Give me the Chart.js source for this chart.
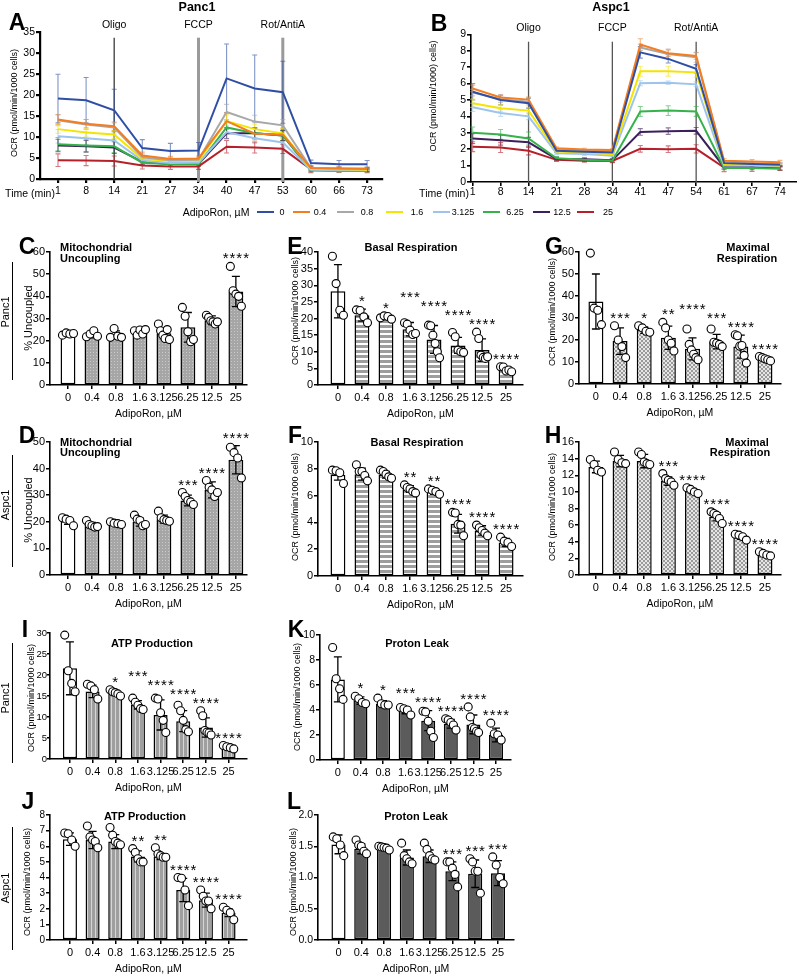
<!DOCTYPE html>
<html><head><meta charset="utf-8">
<script src="https://cdn.jsdelivr.net/npm/chart.js@4.4.1/dist/chart.umd.min.js"></script>
<style>
html,body{margin:0;padding:0;background:#fff;}
#root{position:relative;width:797px;height:974px;overflow:hidden;font-family:"Liberation Sans",Arial,Helvetica,sans-serif;color:#000;}
canvas{position:absolute;}
.t{position:absolute;white-space:nowrap;line-height:1;transform:translate(-50%,-50%);}
.tl{position:absolute;white-space:nowrap;line-height:1;transform:translate(0,-50%);}
.r{position:absolute;white-space:nowrap;line-height:1;transform:translate(-50%,-50%) rotate(-90deg);color:#000;}
.ln{position:absolute;background:#000;}
</style></head><body><div id="root"></div>
<script>
// ---------------- DATA ----------------
const timesPanc1 = ['1','8','14','21','27','34','40','47','53','60','66','73'];
const timesAspc1 = ['1','8','14','21','28','34','41','47','54','61','67','74'];
const injections = ['Oligo','FCCP','Rot/AntiA'];
const injectionIdx = [2,5,8];
const doses = ['0','0.4','0.8','1.6','3.125','6.25','12.5','25'];

// Panel A: Panc1 OCR means (pmol/min/1000 cells)
const A_0    = [19.2,18.8,16.4,7.4,6.7,6.8,24.0,21.6,20.7,3.8,3.5,3.5];
const A_04   = [14.2,13.2,12.6,5.6,4.8,4.9,13.8,10.8,10.6,2.6,2.5,2.4];
const A_08   = [14.0,13.0,12.3,5.2,4.5,4.6,16.0,13.7,12.8,2.6,2.5,2.5];
const A_16   = [11.9,11.1,10.6,4.8,4.3,4.3,13.8,11.9,10.9,2.4,2.3,2.2];
const A_3125 = [10.2,9.7,9.2,4.4,3.8,3.9,11.2,9.7,8.7,2.2,2.1,2.1];
const A_625  = [8.3,8.0,7.8,3.9,3.5,3.5,12.3,10.9,10.4,2.0,1.9,1.9];
const A_125  = [8.0,7.8,7.5,4.1,3.6,3.6,10.9,10.9,10.4,2.2,2.1,2.1];
const A_25   = [4.5,4.4,4.3,3.2,3.0,3.0,7.7,7.5,7.2,2.3,2.2,2.1];
// Panel A: SD
const A_0sd    = [5.8,5.4,5.0,2.0,1.8,1.9,8.2,8.0,7.4,0.7,0.9,0.9];
const A_04sd   = [1.2,1.0,1.0,0.8,0.6,0.6,2.0,1.5,1.5,0.4,0.4,0.4];
const A_08sd   = [1.3,1.2,1.1,0.8,0.6,0.6,1.8,1.5,1.4,0.4,0.4,0.4];
const A_16sd   = [1.0,0.9,0.9,0.6,0.5,0.5,1.5,1.2,1.2,0.3,0.3,0.3];
const A_3125sd = [1.6,1.5,1.5,0.7,0.6,0.6,1.5,1.2,1.2,0.3,0.3,0.3];
const A_625sd  = [1.6,1.5,1.5,0.6,0.5,0.5,1.5,1.3,1.2,0.3,0.3,0.3];
const A_125sd  = [1.5,1.4,1.4,0.6,0.5,0.5,1.3,1.2,1.2,0.3,0.3,0.3];
const A_25sd   = [1.5,1.2,1.2,0.8,0.7,0.7,1.5,1.3,1.1,0.8,0.6,0.6];

// Panel B: Aspc1 OCR means
const B_0    = [5.5,5.0,4.8,1.9,1.85,1.8,7.9,7.5,6.9,1.15,1.1,1.05];
const B_04   = [5.7,5.15,5.02,2.05,1.98,1.95,8.38,7.85,7.68,1.3,1.25,1.2];
const B_08   = [5.45,5.05,4.9,1.98,1.9,1.88,8.2,7.8,7.6,1.2,1.15,1.1];
const B_16   = [4.8,4.5,4.35,1.85,1.8,1.7,6.75,6.75,6.68,1.1,1.05,1.0];
const B_3125 = [4.55,4.2,4.0,1.75,1.7,1.6,6.02,6.05,5.95,1.0,1.0,0.95];
const B_625  = [3.0,2.9,2.65,1.45,1.35,1.3,4.3,4.35,4.3,0.85,0.85,0.8];
const B_125  = [2.65,2.55,2.42,1.4,1.38,1.32,3.05,3.1,3.12,0.9,0.9,0.85];
const B_25   = [2.15,2.1,1.9,1.35,1.3,1.28,2.02,2.0,2.02,0.88,0.85,0.85];
// Panel B: SD
const B_0sd    = [0.5,0.3,0.3,0.1,0.1,0.1,0.35,0.25,0.25,0.1,0.1,0.1];
const B_04sd   = [0.2,0.15,0.15,0.08,0.08,0.08,0.35,0.2,0.2,0.12,0.12,0.12];
const B_08sd   = [0.2,0.2,0.2,0.08,0.08,0.08,0.2,0.3,0.3,0.1,0.1,0.1];
const B_16sd   = [0.25,0.2,0.2,0.08,0.08,0.08,0.3,0.3,0.3,0.1,0.1,0.1];
const B_3125sd = [0.25,0.2,0.2,0.08,0.08,0.08,0.15,0.1,0.15,0.1,0.1,0.1];
const B_625sd  = [0.35,0.3,0.4,0.1,0.1,0.1,0.3,0.3,0.3,0.1,0.1,0.1];
const B_125sd  = [0.3,0.3,0.3,0.1,0.1,0.1,0.2,0.2,0.2,0.1,0.1,0.1];
const B_25sd   = [0.3,0.3,0.25,0.1,0.1,0.1,0.2,0.2,0.25,0.25,0.2,0.15];

// C: Panc1 mitochondrial uncoupling (%)
const C_mean = [23.0,22.8,22.6,24.0,23.4,26.0,29.2,42.2];
const C_sd   = [0.6,1.5,1.8,1.0,2.5,6.7,2.0,6.8];
const C_pts  = [[22.5,23.5,23.0,23.2],[21.8,23.0,24.5,22.0],[21.5,25.5,22.0,21.5],[24.5,22.5,24.8,23.0,25.0],[27.5,24.5,22.5,21.0,25.0,20.5],[35,31,24,19.5,20.5],[31.5,30.5,29,28.5,27.5,28.5],[53.5,42.5,41,40,35.5]];
const C_stars = ['','','','','','','','****'];
// D: Aspc1 mitochondrial uncoupling (%)
const D_mean = [20.2,18.8,19.3,19.9,21.0,28.0,32.0,43.3];
const D_sd   = [1.2,1.0,0.5,1.5,1.5,2.0,3.0,5.3];
const D_pts  = [[21.5,21.0,20.5,18.5],[20.5,19.0,18.5,18.0,18.2],[20.0,19.5,19.3,19.0],[22.5,21.0,20.5,18.5,19.0],[24,21.5,20.8,20.5,20.2],[31,29.5,28,27.5,26.5],[35.5,33,32,29.5,31],[48,46,44,36.5]];
const D_stars = ['','','','','','***','****','****'];
// E: Panc1 basal respiration
const E_mean = [28.2,21.0,20.3,16.8,13.7,11.9,10.5,4.6];
const E_sd   = [8.0,1.8,0.5,2.0,4.2,2.4,3.4,0.6];
const E_pts  = [[38.7,30.5,22.5,21.0],[22.6,22.4,20.5,18.7],[20.2,20.8,20.6,19.8],[18.7,18.3,16.5,15.2,15.5],[18.0,17.8,15.0,12.5,10.0,8.2],[15.8,14.5,10.5,10.0,9.8],[15.9,14.0,9.0,8.3,8.0,8.5],[5.5,5.4,4.2,4.5,4.0]];
const E_stars = ['','*','*','***','****','****','****','****'];
// F: Aspc1 basal respiration
const F_mean = [7.55,7.6,7.55,6.5,6.3,3.9,3.4,2.5];
const F_sd   = [0.4,0.45,0.25,0.25,0.2,0.7,0.35,0.3];
const F_pts  = [[7.9,7.85,7.7,6.9],[8.3,7.8,7.8,7.5,7.1],[7.9,7.8,7.6,7.4,7.3],[6.8,6.6,6.5,6.3,6.2],[6.5,6.4,6.3,6.1],[4.75,4.7,3.85,3.8,3.0],[3.8,3.6,3.4,3.2,3.0],[2.9,2.6,2.5,2.2]];
const F_stars = ['','','','**','**','****','****','****'];
// G: Panc1 maximal respiration
const G_mean = [37.5,19.5,24.5,21.0,16.0,19.3,17.0,11.2];
const G_sd   = [12.5,6.0,1.5,5.3,5.0,3.3,5.2,1.0];
const G_pts  = [[59.5,34.5,33.5,27.0],[26.5,20.0,17.0,12.0],[26.5,25.5,24.0,23.5],[28.0,25.5,20.0,18.5,15.0],[25.0,18.0,15.5,13.5,12.0,11.0],[25.0,19.0,18.5,18.0,17.0],[22.4,21.9,17.2,17.5,13.0,9.5],[12.5,12.0,11.5,11.0,10.5]];
const G_stars = ['','***','*','**','****','***','****','****'];
// H: Aspc1 maximal respiration
const H_mean = [13.0,13.7,13.7,11.3,10.1,7.0,4.6,2.5];
const H_sd   = [0.7,0.7,0.8,0.5,0.3,0.5,0.3,0.2];
const H_pts  = [[13.9,13.3,12.6,12.4],[14.8,13.9,13.5,13.4],[14.8,14.5,13.6,13.4,13.3],[12.2,11.6,11.4,11.2,10.8],[10.5,10.3,10.0,9.8],[7.6,7.4,7.2,6.8,6.2],[4.9,4.8,4.6,4.2],[2.8,2.6,2.4,2.3]];
const H_stars = ['','','','***','****','****','****','****'];
// I: Panc1 ATP production
const I_mean = [21.6,16.1,15.7,12.9,10.5,9.0,7.5,2.7];
const I_sd   = [6.3,1.5,0.6,1.0,3.6,2.5,2.3,0.35];
const I_pts  = [[29.5,21.0,18.0,16.0],[17.8,17.4,16.5,14.3],[16.5,16.0,15.8,15.5,15.0],[14.5,13.5,12.8,12.0,11.8],[14.5,14.3,11.0,9.2,6.3],[12.8,11.5,9.2,7.0,6.5],[11.5,10.3,6.8,6.4,6.2,5.7],[3.2,2.9,2.7,2.4]];
const I_stars = ['','','*','***','****','****','****','****'];
// J: Aspc1 ATP production
const J_mean = [6.45,6.4,6.3,5.35,5.35,3.2,2.55,1.75];
const J_sd   = [0.4,0.55,0.45,0.35,0.2,0.75,0.45,0.25];
const J_pts  = [[6.85,6.8,6.4,6.0],[7.3,6.6,6.4,6.3,5.9],[7.2,6.7,6.3,6.2,6.1],[5.85,5.6,5.2,5.0,5.0],[5.9,5.5,5.4,5.3,5.3],[4.0,3.95,3.2,2.2],[3.2,2.8,2.5,2.5,2.0],[2.1,1.9,1.75,1.3]];
const J_stars = ['','','','**','**','****','****','****'];
// K: Panc1 proton leak
const K_mean = [6.45,4.75,4.5,3.95,3.15,2.9,2.85,2.0];
const K_sd   = [1.8,0.3,0.25,0.25,0.8,0.35,0.75,0.55];
const K_pts  = [[9.0,6.5,5.7,4.85],[5.1,4.9,4.6,4.5],[4.95,4.5,4.4,4.4],[4.2,4.1,4.0,3.6],[3.9,3.85,3.1,2.3,1.8],[3.3,3.2,3.0,2.8,2.4],[4.25,3.45,2.6,2.5,2.3,2.2],[2.95,2.1,2.0,1.6]];
const K_stars = ['','*','*','***','****','****','****','****'];
// L: Aspc1 proton leak
const L_mean = [1.53,1.46,1.47,1.32,1.34,1.10,1.06,1.07];
const L_sd   = [0.15,0.08,0.03,0.12,0.1,0.15,0.22,0.2];
const L_pts  = [[1.65,1.62,1.52,1.35],[1.6,1.52,1.5,1.42,1.38],[1.5,1.49,1.48,1.47,1.44],[1.55,1.35,1.3,1.25,1.22],[1.55,1.45,1.35,1.3,1.28],[1.25,1.25,1.15,1.05,0.85],[1.3,1.25,1.1,1.1,0.75],[1.33,1.2,1.0,0.9]];
const L_stars = ['','','','','','***','***','***'];

// ---------------- RENDERING ----------------
const F = '"Liberation Sans", Arial, Helvetica, sans-serif';
Chart.defaults.font.family = F;
Chart.defaults.color = '#000';
const colors = ['#2f4fa5','#f47d20','#a8a8a8','#f5e400','#9cc4ec','#35b24a','#3d1f5c','#b5202a'];
const root = document.getElementById('root');

function el(cls, x, y, s, css){const d=document.createElement('div');d.className=cls;d.style.left=Math.round(x)+'px';d.style.top=Math.round(y)+'px';d.textContent=s;Object.assign(d.style,css||{});root.appendChild(d);return d;}
function box(x,y,w,h,bg){const d=document.createElement('div');d.className='ln';Object.assign(d.style,{left:x+'px',top:y+'px',width:w+'px',height:h+'px',background:bg||'#000'});root.appendChild(d);}
function mkCanvas(l,t,w,h){l=Math.round(l);t=Math.round(t);w=Math.round(w);h=Math.round(h);const c=document.createElement('canvas');c.width=w;c.height=h;c.style.left=l+'px';c.style.top=t+'px';c.style.width=w+'px';c.style.height=h+'px';root.appendChild(c);return c;}
function hexA(h,a){const n=parseInt(h.slice(1),16);return 'rgba('+((n>>16)&255)+','+((n>>8)&255)+','+(n&255)+','+a+')';}

function pattern(kind){
  const c=document.createElement('canvas'); const x=c.getContext('2d');
  if(kind==='dots'){c.width=3;c.height=3;x.fillStyle='#a6a6a6';x.fillRect(0,0,3,3);x.fillStyle='#c9c9c9';x.fillRect(1,1,1,1);}
  else if(kind==='hstripe'){c.width=2;c.height=5;x.fillStyle='#ffffff';x.fillRect(0,0,2,5);x.fillStyle='#9d9d9d';x.fillRect(0,0,2,3);}
  else if(kind==='check'){c.width=4;c.height=4;x.fillStyle='#e6e6e6';x.fillRect(0,0,4,4);x.fillStyle='#9a9a9a';x.fillRect(0,0,2,2);x.fillRect(2,2,2,2);}
  else if(kind==='vstripe'){c.width=4;c.height=2;x.fillStyle='#9f9f9f';x.fillRect(0,0,4,2);x.fillStyle='#d6d6d6';x.fillRect(3,0,1,2);}
  else {return '#5b5b5b';}
  return x.createPattern(c,'repeat');
}

const axisGrid = (w,tl)=>({drawOnChartArea:false,drawTicks:true,tickLength:tl||4,color:'#000',lineWidth:w,offset:false});

// ---- line panels (A, B) ----
function linePanel(q){
  const yW=q.yW, xH=q.xH, cl=Math.round(q.ax-yW);
  const c=mkCanvas(cl,0,q.right-q.ax+yW+q.padR,q.zero+xH);
  const deco={id:'ld'+q.id,
    beforeDatasetsDraw(chart){
      const {ctx,scales:{x,y},chartArea}=chart; ctx.save();
      q.evIdx.forEach((ix,k)=>{
        const px=x.getPixelForValue(ix);
        ctx.strokeStyle=q.evColor[k]; ctx.lineWidth=q.evW[k];
        ctx.beginPath(); ctx.moveTo(px,chartArea.top+q.evGap); ctx.lineTo(px,chartArea.bottom+q.evExt[k]); ctx.stroke();
        ctx.fillStyle='#000'; ctx.font='10.5px '+F; ctx.textAlign='center'; ctx.textBaseline='middle';
        ctx.fillText(q.evText[k],px,chartArea.top-q.labUp);
      });
      q.series.forEach((s,k)=>{
        ctx.strokeStyle=hexA(colors[k],0.6); ctx.lineWidth=1.1;
        s.forEach((v,i)=>{
          const px=x.getPixelForValue(i), t=y.getPixelForValue(v+q.sds[k][i]), b=y.getPixelForValue(Math.max(0,v-q.sds[k][i]));
          ctx.beginPath(); ctx.moveTo(px,t);ctx.lineTo(px,b);
          ctx.moveTo(px-2.5,t);ctx.lineTo(px+2.5,t);ctx.moveTo(px-2.5,b);ctx.lineTo(px+2.5,b); ctx.stroke();
        });
      });
      // y-axis title
      ctx.save(); ctx.translate(q.yTitleX-cl,q.yTitleY); ctx.rotate(-Math.PI/2);
      ctx.fillStyle='#000'; ctx.font='9px '+F; ctx.textAlign='center'; ctx.textBaseline='middle';
      ctx.fillText(q.yTitle,0,0); ctx.restore();
      ctx.restore();
    }};
  new Chart(c,{type:'line',
    data:{datasets:q.series.map((s,k)=>({data:s.map((v,i)=>({x:i,y:v})),borderColor:colors[k],borderWidth:2,pointRadius:0,tension:0,clip:false}))},
    options:{responsive:false,animation:false,devicePixelRatio:1,
      layout:{padding:{top:q.top,right:q.padR,left:0,bottom:0}},
      plugins:{legend:{display:false},tooltip:{enabled:false}},
      scales:{
        x:{type:'linear',min:q.xmin,max:q.xmax,offset:false,
          afterBuildTicks:s=>{s.ticks=q.labels.map((_,i)=>({value:i}));},
          afterFit:s=>{s.height=xH;},
          ticks:{callback:v=>q.labels[v],autoSkip:false,maxRotation:0,minRotation:0,font:{size:10.5},padding:q.tickPad,color:'#000'},
          grid:axisGrid(q.axW),border:{color:'#000',width:q.axW}},
        y:{min:0,max:q.ymax,
          afterFit:s=>{s.width=yW;},
          ticks:{stepSize:q.ystep,font:{size:10.5},padding:1,color:'#000'},
          grid:axisGrid(q.axW),border:{color:'#000',width:q.axW}}
      }},
    plugins:[deco]});
}

linePanel({id:'A',ax:40,yW:40,right:382,padR:4,zero:179,top:32.3,ymax:35,ystep:5,xmin:-0.64,xmax:11.53,xH:22,tickPad:2,axW:2.2,
  labels:timesPanc1,series:[A_0,A_04,A_08,A_16,A_3125,A_625,A_125,A_25],
  sds:[A_0sd,A_04sd,A_08sd,A_16sd,A_3125sd,A_625sd,A_125sd,A_25sd],
  yTitle:'OCR (pmol/min/1000 cells)',yTitleX:15,yTitleY:103,
  evIdx:injectionIdx,evText:injections,evColor:['#3a3a3a','#9a9a9a','#9a9a9a'],evW:[1.3,3,3],evExt:[0,3,3],evGap:5.4,labUp:7.3});
linePanel({id:'B',ax:471,yW:52,right:797,padR:0,zero:181.7,top:34.3,ymax:9,ystep:1,xmin:-0.06,xmax:11.61,xH:22,tickPad:0,axW:1.6,
  labels:timesAspc1,series:[B_0,B_04,B_08,B_16,B_3125,B_625,B_125,B_25],
  sds:[B_0sd,B_04sd,B_08sd,B_16sd,B_3125sd,B_625sd,B_125sd,B_25sd],
  yTitle:'OCR (pmol/min/1000) cells)',yTitleX:434,yTitleY:96,
  evIdx:injectionIdx,evText:injections,evColor:['#555','#555','#555'],evW:[1.3,1.3,1.3],evExt:[0,0,0],evGap:7.4,labUp:6});

// ---- bar panels ----
function barPanel(p){
  const yW=30, padTop=12, padR=4, xH=35;
  const c=mkCanvas(p.ax-yW,p.top-padTop,p.right-p.ax+yW+padR,p.zero-p.top+padTop+xH);
  const fill=pattern(p.fill);
  const bars=p.means.map((m,i)=>({x:i,y:m}));
  const dots=[];
  p.pts.forEach((arr,i)=>arr.forEach((v,j)=>{const off=arr.length>1?-0.23+0.46*j/(arr.length-1):0;dots.push({x:i+off,y:v});}));
  const deco={id:'bd'+p.id,
    afterDatasetDraw(chart,args){
      if(args.index!==0) return;
      const {ctx,scales:{x,y}}=chart; ctx.save(); ctx.strokeStyle='#000'; ctx.lineWidth=1.3;
      p.means.forEach((m,i)=>{
        const px=x.getPixelForValue(i), t=y.getPixelForValue(m+p.sd[i]), b=y.getPixelForValue(Math.max(0,m-p.sd[i]));
        ctx.beginPath(); ctx.moveTo(px,t);ctx.lineTo(px,b);
        ctx.moveTo(px-4,t);ctx.lineTo(px+4,t);ctx.moveTo(px-4,b);ctx.lineTo(px+4,b); ctx.stroke();
      });
      ctx.restore();
    },
    afterDatasetsDraw(chart){
      const {ctx,scales:{x,y}}=chart; ctx.save(); ctx.fillStyle='#000';
      ctx.font='15px '+F; ctx.textAlign='center'; ctx.textBaseline='alphabetic';
      try{ctx.letterSpacing='1px';}catch(e){}
      const placed=[], H=9;
      for(let i=p.stars.length-1;i>=0;i--){
        const s=p.stars[i]; if(!s) continue;
        const w=ctx.measureText(s).width;
        const cx=x.getPixelForValue(i)+0.5;
        const top=Math.max(p.means[i]+p.sd[i],...p.pts[i]);
        let base=y.getPixelForValue(top)-3;
        let moved=true;
        while(moved){moved=false;for(const b of placed){if(Math.abs(b.cx-cx)<(b.w+w)/2+2 && Math.abs(b.base-base)<H){base=b.base-H;moved=true;}}}
        placed.push({cx,w,base});
        ctx.fillText(s,cx,base);
      }
      ctx.restore();
    }};
  new Chart(c,{type:'bar',
    data:{datasets:[
      {type:'bar',data:bars,backgroundColor:p.means.map((_,i)=>i===0?'#ffffff':fill),borderColor:'#000',borderWidth:1.5,borderSkipped:false,barPercentage:0.62,categoryPercentage:1,order:1},
      {type:'scatter',data:dots,pointRadius:4,pointBackgroundColor:'#fff',pointBorderColor:'#000',pointBorderWidth:1.1,order:0,clip:false}
    ]},
    options:{responsive:false,animation:false,devicePixelRatio:1,
      layout:{padding:{top:padTop,right:padR,left:0,bottom:0}},
      plugins:{legend:{display:false},tooltip:{enabled:false}},
      scales:{
        x:{type:'linear',min:p.xmin,max:p.xmax,offset:false,
          afterBuildTicks:s=>{s.ticks=doses.map((_,i)=>({value:i}));},
          afterFit:s=>{s.height=xH;},
          ticks:{callback:v=>doses[v],autoSkip:false,maxRotation:0,minRotation:0,font:{size:11},padding:2,color:'#000'},
          grid:axisGrid(1.5),border:{color:'#000',width:1.6},
          title:{display:true,text:'AdipoRon, µM',font:{size:10.5},color:'#000',padding:0}},
        y:{min:0,max:p.ymax,
          afterFit:s=>{s.width=yW;},
          ticks:{stepSize:p.ystep,font:{size:p.yfs||11},padding:p.ypad===undefined?1:p.ypad,color:'#000',callback:v=>p.dec?Number(v).toFixed(p.dec):v},
          grid:axisGrid(1.5,p.ytl||4),border:{color:'#000',width:1.6}}
      }},
    plugins:[deco]});
}

barPanel({id:'C',ax:50,right:248,zero:384.5,top:252,ymax:60,ystep:10,xmin:-0.75,xmax:7.46,means:C_mean,sd:C_sd,pts:C_pts,stars:C_stars,fill:'dots'});
barPanel({id:'E',ax:318,right:524,zero:384.5,top:252,ymax:40,ystep:5,xmin:-0.83,xmax:7.7,means:E_mean,sd:E_sd,pts:E_pts,stars:E_stars,fill:'hstripe'});
barPanel({id:'G',ax:579,right:782,zero:384.5,top:252.3,ymax:60,ystep:10,xmin:-0.7,xmax:7.66,means:G_mean,sd:G_sd,pts:G_pts,stars:G_stars,fill:'check'});
barPanel({id:'D',ax:50,right:248,zero:575.7,top:442.3,ymax:50,ystep:10,xmin:-0.75,xmax:7.46,means:D_mean,sd:D_sd,pts:D_pts,stars:D_stars,fill:'dots'});
barPanel({id:'F',ax:318.3,right:524,zero:575.7,top:441.5,ymax:10,ystep:2,xmin:-0.83,xmax:7.7,means:F_mean,sd:F_sd,pts:F_pts,stars:F_stars,fill:'hstripe'});
barPanel({id:'H',ax:579,right:782,zero:575.7,top:442.3,ymax:16,ystep:2,xmin:-0.7,xmax:7.66,means:H_mean,sd:H_sd,pts:H_pts,stars:H_stars,fill:'check'});
barPanel({id:'I',ax:50,right:248,zero:759.3,top:633.3,ymax:30,ystep:5,xmin:-0.88,xmax:7.81,means:I_mean,sd:I_sd,pts:I_pts,stars:I_stars,fill:'vstripe',yfs:9.5,ypad:0,ytl:3});
barPanel({id:'K',ax:320,right:512,zero:760,top:635,ymax:10,ystep:2,xmin:-0.79,xmax:7.66,means:K_mean,sd:K_sd,pts:K_pts,stars:K_stars,fill:'dark',yfs:10.5});
barPanel({id:'J',ax:50,right:248,zero:940.7,top:815.3,ymax:8,ystep:1,xmin:-0.88,xmax:7.81,means:J_mean,sd:J_sd,pts:J_pts,stars:J_stars,fill:'vstripe',yfs:10});
barPanel({id:'L',ax:318.3,right:515,zero:940.7,top:815.3,ymax:2,ystep:0.5,xmin:-0.9,xmax:7.7,means:L_mean,sd:L_sd,pts:L_pts,stars:L_stars,fill:'dark',dec:1,yfs:10.5});

// ---- text overlays ----
el('t',197,7,'Panc1',{fontWeight:'bold',fontSize:'12.5px'});
el('t',611,7,'Aspc1',{fontWeight:'bold',fontSize:'12.5px'});
[['A',16.5,21.5],['B',439,22.5],['C',26.5,245.5],['E',295,245.5],['G',553.5,245.5],['D',26.5,434.5],['F',295,434.5],['H',552.5,434.5],['I',25,628.5],['K',295.5,628.5],['J',27.5,801],['L',293.5,801]]
  .forEach(a=>el('t',a[1],a[2],a[0],{fontWeight:'bold',fontSize:'23px'}));
const ts={fontWeight:'bold',fontSize:'11px'};
el('tl',60,247,'Mitochondrial',ts); el('tl',60,257.5,'Uncoupling',ts);
el('tl',60,441.7,'Mitochondrial',ts); el('tl',60,452.2,'Uncoupling',ts);
el('t',411,247,'Basal Respiration',ts); el('t',416.7,441.7,'Basal Respiration',ts);
el('t',748,247,'Maximal',ts); el('t',747,257.5,'Respiration',ts);
el('t',746.7,441.7,'Maximal',ts); el('t',740,452.3,'Respiration',ts);
el('t',151.7,643.3,'ATP Production',ts); el('t',145,815.7,'ATP Production',ts);
el('t',416.7,643.3,'Proton Leak',ts); el('t',416,815.7,'Proton Leak',ts);
// y-axis titles (bar panels)
const ocr='OCR (pmol/min/1000 cells)';
const ys={fontSize:'9px',fontWeight:'normal'};
el('r',28,318,'% Uncoupled',{fontSize:'11px'}); el('r',28,510,'% Uncoupled',{fontSize:'11px'});
el('r',295,311,ocr,ys); el('r',295,507,ocr,ys);
el('r',552,312,ocr,ys); el('r',552,507,ocr,ys);
el('r',31,698,ocr,ys); el('r',27,882,ocr,ys);
el('r',297,697,ocr,ys); el('r',293,882,ocr,ys);
// row labels
const rs={fontSize:'11px'};
el('r',5,312,'Panc1',rs); box(11.5,262,1.3,118);
el('r',5,505,'Aspc1',rs); box(11.5,455,1.3,112);
el('r',5,698,'Panc1',rs); box(11.5,643,1.3,120);
el('r',5,888,'Aspc1',rs); box(11.5,827,1.3,123);
// time labels
el('t',29.5,193,'Time (min)',{fontSize:'10.5px'});
el('t',444,193.3,'Time (min)',{fontSize:'10.5px'});
// legend
el('t',216,212,'AdipoRon, µM',{fontSize:'10.5px'});
const segX=[257,293,337,386,433,483,533,577], labX=[282,320,367,417,463,515,562,608];
doses.forEach((d,k)=>{box(segX[k],211,17,2,colors[k]); el('t',labX[k],212,d,{fontSize:'9px'});});
</script></body></html>
